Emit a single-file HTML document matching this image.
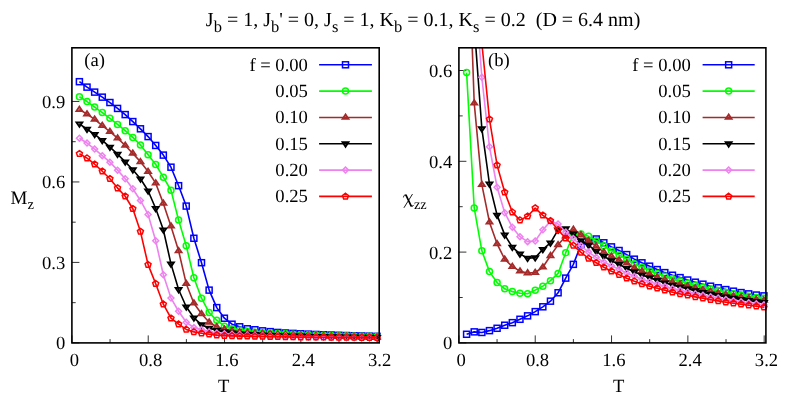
<!DOCTYPE html>
<html><head><meta charset="utf-8"><title>chart</title>
<style>html,body{margin:0;padding:0;background:#fff;}body{width:798px;height:399px;overflow:hidden;position:relative;font-family:"Liberation Serif",serif;}</style></head>
<body>
<svg width="798" height="399" viewBox="0 0 798 399" style="position:absolute;left:0;top:0;font-family:'Liberation Serif',serif;font-size:18.6px;fill:#000;text-rendering:geometricPrecision;will-change:transform">
<rect width="798" height="399" fill="#fff"/>
<text x="423.1" y="26.2" text-anchor="middle" style="font-size:20px">J<tspan dy="6.1" style="font-size:16.5px">b</tspan><tspan dy="-6.1"> = 1, J</tspan><tspan dy="6.1" style="font-size:16.5px">b</tspan><tspan dy="-6.1">' = 0, J</tspan><tspan dy="6.1" style="font-size:16.5px">s</tspan><tspan dy="-6.1"> = 1, K</tspan><tspan dy="6.1" style="font-size:16.5px">b</tspan><tspan dy="-6.1"> = 0.1, K</tspan><tspan dy="6.1" style="font-size:16.5px">s</tspan><tspan dy="-6.1"> = 0.2 &#160;(D = 6.4 nm)</tspan></text>
<clipPath id="ca"><rect x="71.9" y="47.8" width="307.3" height="295.1"/></clipPath>
<path d="M71.9,342.9v-7.5M110.06,342.9v-3.8M148.22,342.9v-7.5M186.38,342.9v-3.8M224.54,342.9v-7.5M262.7,342.9v-3.8M300.86,342.9v-7.5M339.02,342.9v-3.8M377.18,342.9v-7.5M71.9,342.9h7.5M71.9,302.66h3.8M71.9,262.42h7.5M71.9,222.18h3.8M71.9,181.94h7.5M71.9,141.7h3.8M71.9,101.45h7.5" stroke="#000" stroke-width="0.8" fill="none"/>
<g clip-path="url(#ca)"><polyline points="79.4,81.68 87.03,87.13 94.66,92.12 102.29,97.16 109.92,102.53 117.56,108.43 125.19,114.6 132.82,121.58 140.45,128.82 148.08,136.6 155.71,145.45 163.34,155.11 170.97,167.18 178.6,185.69 186.23,206.08 193.87,238.27 201.5,262.69 209.13,290.13 216.76,307.6 224.39,318.22 232.02,324.2 239.65,326.8 247.28,328.79 254.91,329.75 262.54,330.83 270.18,331.63 277.81,332.44 285.44,332.97 293.07,333.39 300.7,333.77 308.33,334.12 315.96,334.44 323.59,334.74 331.22,335.02 338.85,335.28 346.49,335.52 354.12,335.74 361.75,335.95 369.38,336.14 377.01,336.33" fill="none" stroke="#0000ff" stroke-width="1.6" stroke-linejoin="round"/></g>
<rect x="76.4" y="78.68" width="6" height="6" fill="none" stroke="#0000ff" stroke-width="1.5"/>
<rect x="84.03" y="84.13" width="6" height="6" fill="none" stroke="#0000ff" stroke-width="1.5"/>
<rect x="91.66" y="89.12" width="6" height="6" fill="none" stroke="#0000ff" stroke-width="1.5"/>
<rect x="99.29" y="94.16" width="6" height="6" fill="none" stroke="#0000ff" stroke-width="1.5"/>
<rect x="106.92" y="99.53" width="6" height="6" fill="none" stroke="#0000ff" stroke-width="1.5"/>
<rect x="114.56" y="105.43" width="6" height="6" fill="none" stroke="#0000ff" stroke-width="1.5"/>
<rect x="122.19" y="111.6" width="6" height="6" fill="none" stroke="#0000ff" stroke-width="1.5"/>
<rect x="129.82" y="118.58" width="6" height="6" fill="none" stroke="#0000ff" stroke-width="1.5"/>
<rect x="137.45" y="125.82" width="6" height="6" fill="none" stroke="#0000ff" stroke-width="1.5"/>
<rect x="145.08" y="133.6" width="6" height="6" fill="none" stroke="#0000ff" stroke-width="1.5"/>
<rect x="152.71" y="142.45" width="6" height="6" fill="none" stroke="#0000ff" stroke-width="1.5"/>
<rect x="160.34" y="152.11" width="6" height="6" fill="none" stroke="#0000ff" stroke-width="1.5"/>
<rect x="167.97" y="164.18" width="6" height="6" fill="none" stroke="#0000ff" stroke-width="1.5"/>
<rect x="175.6" y="182.69" width="6" height="6" fill="none" stroke="#0000ff" stroke-width="1.5"/>
<rect x="183.23" y="203.08" width="6" height="6" fill="none" stroke="#0000ff" stroke-width="1.5"/>
<rect x="190.87" y="235.27" width="6" height="6" fill="none" stroke="#0000ff" stroke-width="1.5"/>
<rect x="198.5" y="259.69" width="6" height="6" fill="none" stroke="#0000ff" stroke-width="1.5"/>
<rect x="206.13" y="287.13" width="6" height="6" fill="none" stroke="#0000ff" stroke-width="1.5"/>
<rect x="213.76" y="304.6" width="6" height="6" fill="none" stroke="#0000ff" stroke-width="1.5"/>
<rect x="221.39" y="315.22" width="6" height="6" fill="none" stroke="#0000ff" stroke-width="1.5"/>
<rect x="229.02" y="321.2" width="6" height="6" fill="none" stroke="#0000ff" stroke-width="1.5"/>
<rect x="236.65" y="323.8" width="6" height="6" fill="none" stroke="#0000ff" stroke-width="1.5"/>
<rect x="244.28" y="325.79" width="6" height="6" fill="none" stroke="#0000ff" stroke-width="1.5"/>
<rect x="251.91" y="326.75" width="6" height="6" fill="none" stroke="#0000ff" stroke-width="1.5"/>
<rect x="259.54" y="327.83" width="6" height="6" fill="none" stroke="#0000ff" stroke-width="1.5"/>
<rect x="267.18" y="328.63" width="6" height="6" fill="none" stroke="#0000ff" stroke-width="1.5"/>
<rect x="274.81" y="329.44" width="6" height="6" fill="none" stroke="#0000ff" stroke-width="1.5"/>
<rect x="282.44" y="329.97" width="6" height="6" fill="none" stroke="#0000ff" stroke-width="1.5"/>
<rect x="290.07" y="330.39" width="6" height="6" fill="none" stroke="#0000ff" stroke-width="1.5"/>
<rect x="297.7" y="330.77" width="6" height="6" fill="none" stroke="#0000ff" stroke-width="1.5"/>
<rect x="305.33" y="331.12" width="6" height="6" fill="none" stroke="#0000ff" stroke-width="1.5"/>
<rect x="312.96" y="331.44" width="6" height="6" fill="none" stroke="#0000ff" stroke-width="1.5"/>
<rect x="320.59" y="331.74" width="6" height="6" fill="none" stroke="#0000ff" stroke-width="1.5"/>
<rect x="328.22" y="332.02" width="6" height="6" fill="none" stroke="#0000ff" stroke-width="1.5"/>
<rect x="335.85" y="332.28" width="6" height="6" fill="none" stroke="#0000ff" stroke-width="1.5"/>
<rect x="343.49" y="332.52" width="6" height="6" fill="none" stroke="#0000ff" stroke-width="1.5"/>
<rect x="351.12" y="332.74" width="6" height="6" fill="none" stroke="#0000ff" stroke-width="1.5"/>
<rect x="358.75" y="332.95" width="6" height="6" fill="none" stroke="#0000ff" stroke-width="1.5"/>
<rect x="366.38" y="333.14" width="6" height="6" fill="none" stroke="#0000ff" stroke-width="1.5"/>
<rect x="374.01" y="333.33" width="6" height="6" fill="none" stroke="#0000ff" stroke-width="1.5"/>
<g clip-path="url(#ca)"><polyline points="79.4,96.73 87.03,101.54 94.66,107.09 102.29,112.53 109.92,118.36 117.56,124.45 125.19,130.64 132.82,137.4 140.45,145.05 148.08,154.76 155.71,164.5 163.34,177.16 170.97,190.25 178.6,220.11 186.23,245.79 193.87,277.71 201.5,298.18 209.13,312.59 216.76,320.2 224.39,326.19 232.02,328.79 239.65,330.29 247.28,331.36 254.91,332.17 262.54,332.65 270.18,333.08 277.81,333.47 285.44,333.82 293.07,334.15 300.7,334.45 308.33,334.73 315.96,334.98 323.59,335.21 331.22,335.43 338.85,335.63 346.49,335.82 354.12,336 361.75,336.16 369.38,336.32 377.01,336.46" fill="none" stroke="#00ff00" stroke-width="1.6" stroke-linejoin="round"/></g>
<circle cx="79.4" cy="96.73" r="3" fill="none" stroke="#00ff00" stroke-width="1.5"/>
<circle cx="87.03" cy="101.54" r="3" fill="none" stroke="#00ff00" stroke-width="1.5"/>
<circle cx="94.66" cy="107.09" r="3" fill="none" stroke="#00ff00" stroke-width="1.5"/>
<circle cx="102.29" cy="112.53" r="3" fill="none" stroke="#00ff00" stroke-width="1.5"/>
<circle cx="109.92" cy="118.36" r="3" fill="none" stroke="#00ff00" stroke-width="1.5"/>
<circle cx="117.56" cy="124.45" r="3" fill="none" stroke="#00ff00" stroke-width="1.5"/>
<circle cx="125.19" cy="130.64" r="3" fill="none" stroke="#00ff00" stroke-width="1.5"/>
<circle cx="132.82" cy="137.4" r="3" fill="none" stroke="#00ff00" stroke-width="1.5"/>
<circle cx="140.45" cy="145.05" r="3" fill="none" stroke="#00ff00" stroke-width="1.5"/>
<circle cx="148.08" cy="154.76" r="3" fill="none" stroke="#00ff00" stroke-width="1.5"/>
<circle cx="155.71" cy="164.5" r="3" fill="none" stroke="#00ff00" stroke-width="1.5"/>
<circle cx="163.34" cy="177.16" r="3" fill="none" stroke="#00ff00" stroke-width="1.5"/>
<circle cx="170.97" cy="190.25" r="3" fill="none" stroke="#00ff00" stroke-width="1.5"/>
<circle cx="178.6" cy="220.11" r="3" fill="none" stroke="#00ff00" stroke-width="1.5"/>
<circle cx="186.23" cy="245.79" r="3" fill="none" stroke="#00ff00" stroke-width="1.5"/>
<circle cx="193.87" cy="277.71" r="3" fill="none" stroke="#00ff00" stroke-width="1.5"/>
<circle cx="201.5" cy="298.18" r="3" fill="none" stroke="#00ff00" stroke-width="1.5"/>
<circle cx="209.13" cy="312.59" r="3" fill="none" stroke="#00ff00" stroke-width="1.5"/>
<circle cx="216.76" cy="320.2" r="3" fill="none" stroke="#00ff00" stroke-width="1.5"/>
<circle cx="224.39" cy="326.19" r="3" fill="none" stroke="#00ff00" stroke-width="1.5"/>
<circle cx="232.02" cy="328.79" r="3" fill="none" stroke="#00ff00" stroke-width="1.5"/>
<circle cx="239.65" cy="330.29" r="3" fill="none" stroke="#00ff00" stroke-width="1.5"/>
<circle cx="247.28" cy="331.36" r="3" fill="none" stroke="#00ff00" stroke-width="1.5"/>
<circle cx="254.91" cy="332.17" r="3" fill="none" stroke="#00ff00" stroke-width="1.5"/>
<circle cx="262.54" cy="332.65" r="3" fill="none" stroke="#00ff00" stroke-width="1.5"/>
<circle cx="270.18" cy="333.08" r="3" fill="none" stroke="#00ff00" stroke-width="1.5"/>
<circle cx="277.81" cy="333.47" r="3" fill="none" stroke="#00ff00" stroke-width="1.5"/>
<circle cx="285.44" cy="333.82" r="3" fill="none" stroke="#00ff00" stroke-width="1.5"/>
<circle cx="293.07" cy="334.15" r="3" fill="none" stroke="#00ff00" stroke-width="1.5"/>
<circle cx="300.7" cy="334.45" r="3" fill="none" stroke="#00ff00" stroke-width="1.5"/>
<circle cx="308.33" cy="334.73" r="3" fill="none" stroke="#00ff00" stroke-width="1.5"/>
<circle cx="315.96" cy="334.98" r="3" fill="none" stroke="#00ff00" stroke-width="1.5"/>
<circle cx="323.59" cy="335.21" r="3" fill="none" stroke="#00ff00" stroke-width="1.5"/>
<circle cx="331.22" cy="335.43" r="3" fill="none" stroke="#00ff00" stroke-width="1.5"/>
<circle cx="338.85" cy="335.63" r="3" fill="none" stroke="#00ff00" stroke-width="1.5"/>
<circle cx="346.49" cy="335.82" r="3" fill="none" stroke="#00ff00" stroke-width="1.5"/>
<circle cx="354.12" cy="336" r="3" fill="none" stroke="#00ff00" stroke-width="1.5"/>
<circle cx="361.75" cy="336.16" r="3" fill="none" stroke="#00ff00" stroke-width="1.5"/>
<circle cx="369.38" cy="336.32" r="3" fill="none" stroke="#00ff00" stroke-width="1.5"/>
<circle cx="377.01" cy="336.46" r="3" fill="none" stroke="#00ff00" stroke-width="1.5"/>
<g clip-path="url(#ca)"><polyline points="79.4,109.53 87.03,114.14 94.66,119.35 102.29,125.65 109.92,131.64 117.56,138.21 125.19,145.45 132.82,153.34 140.45,161.82 148.08,171.55 155.71,183.17 163.34,203.4 170.97,226.2 178.6,250.78 186.23,283.69 193.87,303.2 201.5,313.79 209.13,322.24 216.76,326.8 224.39,329.22 232.02,330.83 239.65,331.9 247.28,332.71 254.91,333.18 262.54,333.6 270.18,333.98 277.81,334.33 285.44,334.65 293.07,334.94 300.7,335.21 308.33,335.45 315.96,335.68 323.59,335.89 331.22,336.08 338.85,336.26 346.49,336.43 354.12,336.59 361.75,336.73 369.38,336.87 377.01,337" fill="none" stroke="#a52a2a" stroke-width="1.6" stroke-linejoin="round"/></g>
<polygon points="79.4,106.49 76.36,111.05 82.44,111.05" fill="#a52a2a" fill-opacity="0.45" stroke="#a52a2a" stroke-width="1.75"/>
<polygon points="87.03,111.1 83.99,115.66 90.07,115.66" fill="#a52a2a" fill-opacity="0.45" stroke="#a52a2a" stroke-width="1.75"/>
<polygon points="94.66,116.31 91.62,120.87 97.7,120.87" fill="#a52a2a" fill-opacity="0.45" stroke="#a52a2a" stroke-width="1.75"/>
<polygon points="102.29,122.61 99.25,127.17 105.33,127.17" fill="#a52a2a" fill-opacity="0.45" stroke="#a52a2a" stroke-width="1.75"/>
<polygon points="109.92,128.6 106.88,133.16 112.96,133.16" fill="#a52a2a" fill-opacity="0.45" stroke="#a52a2a" stroke-width="1.75"/>
<polygon points="117.56,135.17 114.52,139.73 120.59,139.73" fill="#a52a2a" fill-opacity="0.45" stroke="#a52a2a" stroke-width="1.75"/>
<polygon points="125.19,142.41 122.15,146.97 128.23,146.97" fill="#a52a2a" fill-opacity="0.45" stroke="#a52a2a" stroke-width="1.75"/>
<polygon points="132.82,150.3 129.78,154.86 135.86,154.86" fill="#a52a2a" fill-opacity="0.45" stroke="#a52a2a" stroke-width="1.75"/>
<polygon points="140.45,158.78 137.41,163.34 143.49,163.34" fill="#a52a2a" fill-opacity="0.45" stroke="#a52a2a" stroke-width="1.75"/>
<polygon points="148.08,168.51 145.04,173.07 151.12,173.07" fill="#a52a2a" fill-opacity="0.45" stroke="#a52a2a" stroke-width="1.75"/>
<polygon points="155.71,180.13 152.67,184.69 158.75,184.69" fill="#a52a2a" fill-opacity="0.45" stroke="#a52a2a" stroke-width="1.75"/>
<polygon points="163.34,200.36 160.3,204.92 166.38,204.92" fill="#a52a2a" fill-opacity="0.45" stroke="#a52a2a" stroke-width="1.75"/>
<polygon points="170.97,223.16 167.93,227.72 174.01,227.72" fill="#a52a2a" fill-opacity="0.45" stroke="#a52a2a" stroke-width="1.75"/>
<polygon points="178.6,247.74 175.56,252.3 181.64,252.3" fill="#a52a2a" fill-opacity="0.45" stroke="#a52a2a" stroke-width="1.75"/>
<polygon points="186.23,280.65 183.19,285.21 189.27,285.21" fill="#a52a2a" fill-opacity="0.45" stroke="#a52a2a" stroke-width="1.75"/>
<polygon points="193.87,300.16 190.83,304.72 196.9,304.72" fill="#a52a2a" fill-opacity="0.45" stroke="#a52a2a" stroke-width="1.75"/>
<polygon points="201.5,310.75 198.46,315.31 204.54,315.31" fill="#a52a2a" fill-opacity="0.45" stroke="#a52a2a" stroke-width="1.75"/>
<polygon points="209.13,319.2 206.09,323.76 212.17,323.76" fill="#a52a2a" fill-opacity="0.45" stroke="#a52a2a" stroke-width="1.75"/>
<polygon points="216.76,323.76 213.72,328.32 219.8,328.32" fill="#a52a2a" fill-opacity="0.45" stroke="#a52a2a" stroke-width="1.75"/>
<polygon points="224.39,326.18 221.35,330.74 227.43,330.74" fill="#a52a2a" fill-opacity="0.45" stroke="#a52a2a" stroke-width="1.75"/>
<polygon points="232.02,327.79 228.98,332.35 235.06,332.35" fill="#a52a2a" fill-opacity="0.45" stroke="#a52a2a" stroke-width="1.75"/>
<polygon points="239.65,328.86 236.61,333.42 242.69,333.42" fill="#a52a2a" fill-opacity="0.45" stroke="#a52a2a" stroke-width="1.75"/>
<polygon points="247.28,329.67 244.24,334.23 250.32,334.23" fill="#a52a2a" fill-opacity="0.45" stroke="#a52a2a" stroke-width="1.75"/>
<polygon points="254.91,330.14 251.87,334.7 257.95,334.7" fill="#a52a2a" fill-opacity="0.45" stroke="#a52a2a" stroke-width="1.75"/>
<polygon points="262.54,330.56 259.5,335.12 265.58,335.12" fill="#a52a2a" fill-opacity="0.45" stroke="#a52a2a" stroke-width="1.75"/>
<polygon points="270.18,330.94 267.14,335.5 273.21,335.5" fill="#a52a2a" fill-opacity="0.45" stroke="#a52a2a" stroke-width="1.75"/>
<polygon points="277.81,331.29 274.77,335.85 280.85,335.85" fill="#a52a2a" fill-opacity="0.45" stroke="#a52a2a" stroke-width="1.75"/>
<polygon points="285.44,331.61 282.4,336.17 288.48,336.17" fill="#a52a2a" fill-opacity="0.45" stroke="#a52a2a" stroke-width="1.75"/>
<polygon points="293.07,331.9 290.03,336.46 296.11,336.46" fill="#a52a2a" fill-opacity="0.45" stroke="#a52a2a" stroke-width="1.75"/>
<polygon points="300.7,332.17 297.66,336.73 303.74,336.73" fill="#a52a2a" fill-opacity="0.45" stroke="#a52a2a" stroke-width="1.75"/>
<polygon points="308.33,332.41 305.29,336.97 311.37,336.97" fill="#a52a2a" fill-opacity="0.45" stroke="#a52a2a" stroke-width="1.75"/>
<polygon points="315.96,332.64 312.92,337.2 319,337.2" fill="#a52a2a" fill-opacity="0.45" stroke="#a52a2a" stroke-width="1.75"/>
<polygon points="323.59,332.85 320.55,337.41 326.63,337.41" fill="#a52a2a" fill-opacity="0.45" stroke="#a52a2a" stroke-width="1.75"/>
<polygon points="331.22,333.04 328.18,337.6 334.26,337.6" fill="#a52a2a" fill-opacity="0.45" stroke="#a52a2a" stroke-width="1.75"/>
<polygon points="338.85,333.22 335.81,337.78 341.89,337.78" fill="#a52a2a" fill-opacity="0.45" stroke="#a52a2a" stroke-width="1.75"/>
<polygon points="346.49,333.39 343.45,337.95 349.52,337.95" fill="#a52a2a" fill-opacity="0.45" stroke="#a52a2a" stroke-width="1.75"/>
<polygon points="354.12,333.55 351.08,338.11 357.16,338.11" fill="#a52a2a" fill-opacity="0.45" stroke="#a52a2a" stroke-width="1.75"/>
<polygon points="361.75,333.69 358.71,338.25 364.79,338.25" fill="#a52a2a" fill-opacity="0.45" stroke="#a52a2a" stroke-width="1.75"/>
<polygon points="369.38,333.83 366.34,338.39 372.42,338.39" fill="#a52a2a" fill-opacity="0.45" stroke="#a52a2a" stroke-width="1.75"/>
<polygon points="377.01,333.96 373.97,338.52 380.05,338.52" fill="#a52a2a" fill-opacity="0.45" stroke="#a52a2a" stroke-width="1.75"/>
<g clip-path="url(#ca)"><polyline points="79.4,123.83 87.03,129.25 94.66,134.32 102.29,140.35 109.92,147.06 117.56,154.14 125.19,161.82 132.82,169.76 140.45,178.77 148.08,190.79 155.71,208.5 163.34,229.77 170.97,263.87 178.6,289.51 186.23,306.79 193.87,317.79 201.5,324.66 209.13,328.2 216.76,330.29 224.39,331.9 232.02,332.97 239.65,333.78 247.28,334.16 254.91,334.5 262.54,334.81 270.18,335.08 277.81,335.34 285.44,335.57 293.07,335.78 300.7,335.97 308.33,336.15 315.96,336.31 323.59,336.46 331.22,336.6 338.85,336.73 346.49,336.85 354.12,336.97 361.75,337.07 369.38,337.17 377.01,337.27" fill="none" stroke="#000000" stroke-width="1.6" stroke-linejoin="round"/></g>
<polygon points="79.4,126.87 76.36,122.31 82.44,122.31" fill="#000000" fill-opacity="0.45" stroke="#000000" stroke-width="1.75"/>
<polygon points="87.03,132.29 83.99,127.73 90.07,127.73" fill="#000000" fill-opacity="0.45" stroke="#000000" stroke-width="1.75"/>
<polygon points="94.66,137.36 91.62,132.8 97.7,132.8" fill="#000000" fill-opacity="0.45" stroke="#000000" stroke-width="1.75"/>
<polygon points="102.29,143.39 99.25,138.83 105.33,138.83" fill="#000000" fill-opacity="0.45" stroke="#000000" stroke-width="1.75"/>
<polygon points="109.92,150.1 106.88,145.54 112.96,145.54" fill="#000000" fill-opacity="0.45" stroke="#000000" stroke-width="1.75"/>
<polygon points="117.56,157.18 114.52,152.62 120.59,152.62" fill="#000000" fill-opacity="0.45" stroke="#000000" stroke-width="1.75"/>
<polygon points="125.19,164.86 122.15,160.3 128.23,160.3" fill="#000000" fill-opacity="0.45" stroke="#000000" stroke-width="1.75"/>
<polygon points="132.82,172.8 129.78,168.24 135.86,168.24" fill="#000000" fill-opacity="0.45" stroke="#000000" stroke-width="1.75"/>
<polygon points="140.45,181.81 137.41,177.25 143.49,177.25" fill="#000000" fill-opacity="0.45" stroke="#000000" stroke-width="1.75"/>
<polygon points="148.08,193.83 145.04,189.27 151.12,189.27" fill="#000000" fill-opacity="0.45" stroke="#000000" stroke-width="1.75"/>
<polygon points="155.71,211.53 152.67,206.97 158.75,206.97" fill="#000000" fill-opacity="0.45" stroke="#000000" stroke-width="1.75"/>
<polygon points="163.34,232.81 160.3,228.25 166.38,228.25" fill="#000000" fill-opacity="0.45" stroke="#000000" stroke-width="1.75"/>
<polygon points="170.97,266.91 167.93,262.35 174.01,262.35" fill="#000000" fill-opacity="0.45" stroke="#000000" stroke-width="1.75"/>
<polygon points="178.6,292.55 175.56,287.99 181.64,287.99" fill="#000000" fill-opacity="0.45" stroke="#000000" stroke-width="1.75"/>
<polygon points="186.23,309.83 183.19,305.27 189.27,305.27" fill="#000000" fill-opacity="0.45" stroke="#000000" stroke-width="1.75"/>
<polygon points="193.87,320.83 190.83,316.27 196.9,316.27" fill="#000000" fill-opacity="0.45" stroke="#000000" stroke-width="1.75"/>
<polygon points="201.5,327.7 198.46,323.14 204.54,323.14" fill="#000000" fill-opacity="0.45" stroke="#000000" stroke-width="1.75"/>
<polygon points="209.13,331.24 206.09,326.68 212.17,326.68" fill="#000000" fill-opacity="0.45" stroke="#000000" stroke-width="1.75"/>
<polygon points="216.76,333.33 213.72,328.77 219.8,328.77" fill="#000000" fill-opacity="0.45" stroke="#000000" stroke-width="1.75"/>
<polygon points="224.39,334.94 221.35,330.38 227.43,330.38" fill="#000000" fill-opacity="0.45" stroke="#000000" stroke-width="1.75"/>
<polygon points="232.02,336.01 228.98,331.45 235.06,331.45" fill="#000000" fill-opacity="0.45" stroke="#000000" stroke-width="1.75"/>
<polygon points="239.65,336.82 236.61,332.26 242.69,332.26" fill="#000000" fill-opacity="0.45" stroke="#000000" stroke-width="1.75"/>
<polygon points="247.28,337.2 244.24,332.64 250.32,332.64" fill="#000000" fill-opacity="0.45" stroke="#000000" stroke-width="1.75"/>
<polygon points="254.91,337.54 251.87,332.98 257.95,332.98" fill="#000000" fill-opacity="0.45" stroke="#000000" stroke-width="1.75"/>
<polygon points="262.54,337.85 259.5,333.29 265.58,333.29" fill="#000000" fill-opacity="0.45" stroke="#000000" stroke-width="1.75"/>
<polygon points="270.18,338.12 267.14,333.56 273.21,333.56" fill="#000000" fill-opacity="0.45" stroke="#000000" stroke-width="1.75"/>
<polygon points="277.81,338.38 274.77,333.82 280.85,333.82" fill="#000000" fill-opacity="0.45" stroke="#000000" stroke-width="1.75"/>
<polygon points="285.44,338.61 282.4,334.05 288.48,334.05" fill="#000000" fill-opacity="0.45" stroke="#000000" stroke-width="1.75"/>
<polygon points="293.07,338.82 290.03,334.26 296.11,334.26" fill="#000000" fill-opacity="0.45" stroke="#000000" stroke-width="1.75"/>
<polygon points="300.7,339.01 297.66,334.45 303.74,334.45" fill="#000000" fill-opacity="0.45" stroke="#000000" stroke-width="1.75"/>
<polygon points="308.33,339.19 305.29,334.63 311.37,334.63" fill="#000000" fill-opacity="0.45" stroke="#000000" stroke-width="1.75"/>
<polygon points="315.96,339.35 312.92,334.79 319,334.79" fill="#000000" fill-opacity="0.45" stroke="#000000" stroke-width="1.75"/>
<polygon points="323.59,339.5 320.55,334.94 326.63,334.94" fill="#000000" fill-opacity="0.45" stroke="#000000" stroke-width="1.75"/>
<polygon points="331.22,339.64 328.18,335.08 334.26,335.08" fill="#000000" fill-opacity="0.45" stroke="#000000" stroke-width="1.75"/>
<polygon points="338.85,339.77 335.81,335.21 341.89,335.21" fill="#000000" fill-opacity="0.45" stroke="#000000" stroke-width="1.75"/>
<polygon points="346.49,339.89 343.45,335.33 349.52,335.33" fill="#000000" fill-opacity="0.45" stroke="#000000" stroke-width="1.75"/>
<polygon points="354.12,340.01 351.08,335.45 357.16,335.45" fill="#000000" fill-opacity="0.45" stroke="#000000" stroke-width="1.75"/>
<polygon points="361.75,340.11 358.71,335.55 364.79,335.55" fill="#000000" fill-opacity="0.45" stroke="#000000" stroke-width="1.75"/>
<polygon points="369.38,340.21 366.34,335.65 372.42,335.65" fill="#000000" fill-opacity="0.45" stroke="#000000" stroke-width="1.75"/>
<polygon points="377.01,340.31 373.97,335.75 380.05,335.75" fill="#000000" fill-opacity="0.45" stroke="#000000" stroke-width="1.75"/>
<g clip-path="url(#ca)"><polyline points="79.4,138.21 87.03,143.04 94.66,149.05 102.29,155.65 109.92,162.14 117.56,170.13 125.19,178.72 132.82,188.75 140.45,200.45 148.08,214.48 155.71,240.77 163.34,274.76 170.97,298.1 178.6,311.24 186.23,322.24 193.87,327.61 201.5,329.59 209.13,331.63 216.76,332.97 224.39,333.78 232.02,334.19 239.65,334.55 247.28,334.88 254.91,335.17 262.54,335.43 270.18,335.67 277.81,335.88 285.44,336.08 293.07,336.26 300.7,336.43 308.33,336.58 315.96,336.72 323.59,336.85 331.22,336.97 338.85,337.08 346.49,337.18 354.12,337.28 361.75,337.37 369.38,337.46 377.01,337.53" fill="none" stroke="#ee82ee" stroke-width="1.6" stroke-linejoin="round"/></g>
<polygon points="79.4,135.27 76.46,138.21 79.4,141.15 82.34,138.21" fill="none" stroke="#ee82ee" stroke-width="1.5"/>
<polygon points="87.03,140.1 84.09,143.04 87.03,145.98 89.97,143.04" fill="none" stroke="#ee82ee" stroke-width="1.5"/>
<polygon points="94.66,146.11 91.72,149.05 94.66,151.99 97.6,149.05" fill="none" stroke="#ee82ee" stroke-width="1.5"/>
<polygon points="102.29,152.71 99.35,155.65 102.29,158.59 105.23,155.65" fill="none" stroke="#ee82ee" stroke-width="1.5"/>
<polygon points="109.92,159.2 106.98,162.14 109.92,165.08 112.86,162.14" fill="none" stroke="#ee82ee" stroke-width="1.5"/>
<polygon points="117.56,167.19 114.62,170.13 117.56,173.07 120.5,170.13" fill="none" stroke="#ee82ee" stroke-width="1.5"/>
<polygon points="125.19,175.78 122.25,178.72 125.19,181.66 128.13,178.72" fill="none" stroke="#ee82ee" stroke-width="1.5"/>
<polygon points="132.82,185.81 129.88,188.75 132.82,191.69 135.76,188.75" fill="none" stroke="#ee82ee" stroke-width="1.5"/>
<polygon points="140.45,197.51 137.51,200.45 140.45,203.39 143.39,200.45" fill="none" stroke="#ee82ee" stroke-width="1.5"/>
<polygon points="148.08,211.54 145.14,214.48 148.08,217.42 151.02,214.48" fill="none" stroke="#ee82ee" stroke-width="1.5"/>
<polygon points="155.71,237.83 152.77,240.77 155.71,243.71 158.65,240.77" fill="none" stroke="#ee82ee" stroke-width="1.5"/>
<polygon points="163.34,271.82 160.4,274.76 163.34,277.7 166.28,274.76" fill="none" stroke="#ee82ee" stroke-width="1.5"/>
<polygon points="170.97,295.16 168.03,298.1 170.97,301.04 173.91,298.1" fill="none" stroke="#ee82ee" stroke-width="1.5"/>
<polygon points="178.6,308.3 175.66,311.24 178.6,314.18 181.54,311.24" fill="none" stroke="#ee82ee" stroke-width="1.5"/>
<polygon points="186.23,319.3 183.29,322.24 186.23,325.18 189.17,322.24" fill="none" stroke="#ee82ee" stroke-width="1.5"/>
<polygon points="193.87,324.67 190.93,327.61 193.87,330.55 196.81,327.61" fill="none" stroke="#ee82ee" stroke-width="1.5"/>
<polygon points="201.5,326.65 198.56,329.59 201.5,332.53 204.44,329.59" fill="none" stroke="#ee82ee" stroke-width="1.5"/>
<polygon points="209.13,328.69 206.19,331.63 209.13,334.57 212.07,331.63" fill="none" stroke="#ee82ee" stroke-width="1.5"/>
<polygon points="216.76,330.03 213.82,332.97 216.76,335.91 219.7,332.97" fill="none" stroke="#ee82ee" stroke-width="1.5"/>
<polygon points="224.39,330.84 221.45,333.78 224.39,336.72 227.33,333.78" fill="none" stroke="#ee82ee" stroke-width="1.5"/>
<polygon points="232.02,331.25 229.08,334.19 232.02,337.13 234.96,334.19" fill="none" stroke="#ee82ee" stroke-width="1.5"/>
<polygon points="239.65,331.61 236.71,334.55 239.65,337.49 242.59,334.55" fill="none" stroke="#ee82ee" stroke-width="1.5"/>
<polygon points="247.28,331.94 244.34,334.88 247.28,337.82 250.22,334.88" fill="none" stroke="#ee82ee" stroke-width="1.5"/>
<polygon points="254.91,332.23 251.97,335.17 254.91,338.11 257.85,335.17" fill="none" stroke="#ee82ee" stroke-width="1.5"/>
<polygon points="262.54,332.49 259.6,335.43 262.54,338.37 265.48,335.43" fill="none" stroke="#ee82ee" stroke-width="1.5"/>
<polygon points="270.18,332.73 267.24,335.67 270.18,338.61 273.12,335.67" fill="none" stroke="#ee82ee" stroke-width="1.5"/>
<polygon points="277.81,332.94 274.87,335.88 277.81,338.82 280.75,335.88" fill="none" stroke="#ee82ee" stroke-width="1.5"/>
<polygon points="285.44,333.14 282.5,336.08 285.44,339.02 288.38,336.08" fill="none" stroke="#ee82ee" stroke-width="1.5"/>
<polygon points="293.07,333.32 290.13,336.26 293.07,339.2 296.01,336.26" fill="none" stroke="#ee82ee" stroke-width="1.5"/>
<polygon points="300.7,333.49 297.76,336.43 300.7,339.37 303.64,336.43" fill="none" stroke="#ee82ee" stroke-width="1.5"/>
<polygon points="308.33,333.64 305.39,336.58 308.33,339.52 311.27,336.58" fill="none" stroke="#ee82ee" stroke-width="1.5"/>
<polygon points="315.96,333.78 313.02,336.72 315.96,339.66 318.9,336.72" fill="none" stroke="#ee82ee" stroke-width="1.5"/>
<polygon points="323.59,333.91 320.65,336.85 323.59,339.79 326.53,336.85" fill="none" stroke="#ee82ee" stroke-width="1.5"/>
<polygon points="331.22,334.03 328.28,336.97 331.22,339.91 334.16,336.97" fill="none" stroke="#ee82ee" stroke-width="1.5"/>
<polygon points="338.85,334.14 335.91,337.08 338.85,340.02 341.79,337.08" fill="none" stroke="#ee82ee" stroke-width="1.5"/>
<polygon points="346.49,334.24 343.55,337.18 346.49,340.12 349.43,337.18" fill="none" stroke="#ee82ee" stroke-width="1.5"/>
<polygon points="354.12,334.34 351.18,337.28 354.12,340.22 357.06,337.28" fill="none" stroke="#ee82ee" stroke-width="1.5"/>
<polygon points="361.75,334.43 358.81,337.37 361.75,340.31 364.69,337.37" fill="none" stroke="#ee82ee" stroke-width="1.5"/>
<polygon points="369.38,334.52 366.44,337.46 369.38,340.4 372.32,337.46" fill="none" stroke="#ee82ee" stroke-width="1.5"/>
<polygon points="377.01,334.59 374.07,337.53 377.01,340.47 379.95,337.53" fill="none" stroke="#ee82ee" stroke-width="1.5"/>
<g clip-path="url(#ca)"><polyline points="79.4,153.77 87.03,158.14 94.66,164.23 102.29,171.21 109.92,178.77 117.56,188.11 125.19,196.26 132.82,208.76 140.45,231.57 148.08,264.67 155.71,283.69 163.34,304.19 170.97,318.22 178.6,324.2 186.23,329.41 193.87,331.9 201.5,333.3 209.13,334.32 216.76,335.12 224.39,335.71 232.02,335.92 239.65,336.11 247.28,336.28 254.91,336.44 262.54,336.57 270.18,336.7 277.81,336.81 285.44,336.91 293.07,337 300.7,337.09 308.33,337.17 315.96,337.24 323.59,337.31 331.22,337.37 338.85,337.43 346.49,337.49 354.12,337.54 361.75,337.58 369.38,337.63 377.01,337.67" fill="none" stroke="#ff0000" stroke-width="1.6" stroke-linejoin="round"/></g>
<polygon points="79.4,150.62 82.4,152.79 81.25,156.32 77.55,156.32 76.4,152.79" fill="none" stroke="#ff0000" stroke-width="1.5"/>
<polygon points="87.03,154.99 90.03,157.17 88.88,160.69 85.18,160.69 84.04,157.17" fill="none" stroke="#ff0000" stroke-width="1.5"/>
<polygon points="94.66,161.08 97.66,163.26 96.51,166.78 92.81,166.78 91.67,163.26" fill="none" stroke="#ff0000" stroke-width="1.5"/>
<polygon points="102.29,168.06 105.29,170.23 104.14,173.75 100.44,173.75 99.3,170.23" fill="none" stroke="#ff0000" stroke-width="1.5"/>
<polygon points="109.92,175.62 112.92,177.8 111.78,181.32 108.07,181.32 106.93,177.8" fill="none" stroke="#ff0000" stroke-width="1.5"/>
<polygon points="117.56,184.96 120.55,187.13 119.41,190.66 115.7,190.66 114.56,187.13" fill="none" stroke="#ff0000" stroke-width="1.5"/>
<polygon points="125.19,193.11 128.18,195.29 127.04,198.81 123.33,198.81 122.19,195.29" fill="none" stroke="#ff0000" stroke-width="1.5"/>
<polygon points="132.82,205.61 135.81,207.79 134.67,211.31 130.97,211.31 129.82,207.79" fill="none" stroke="#ff0000" stroke-width="1.5"/>
<polygon points="140.45,228.42 143.44,230.59 142.3,234.12 138.6,234.12 137.45,230.59" fill="none" stroke="#ff0000" stroke-width="1.5"/>
<polygon points="148.08,261.52 151.07,263.7 149.93,267.22 146.23,267.22 145.08,263.7" fill="none" stroke="#ff0000" stroke-width="1.5"/>
<polygon points="155.71,280.54 158.71,282.72 157.56,286.24 153.86,286.24 152.71,282.72" fill="none" stroke="#ff0000" stroke-width="1.5"/>
<polygon points="163.34,301.04 166.34,303.21 165.19,306.74 161.49,306.74 160.35,303.21" fill="none" stroke="#ff0000" stroke-width="1.5"/>
<polygon points="170.97,315.07 173.97,317.25 172.82,320.77 169.12,320.77 167.98,317.25" fill="none" stroke="#ff0000" stroke-width="1.5"/>
<polygon points="178.6,321.05 181.6,323.23 180.45,326.75 176.75,326.75 175.61,323.23" fill="none" stroke="#ff0000" stroke-width="1.5"/>
<polygon points="186.23,326.26 189.23,328.43 188.09,331.95 184.38,331.95 183.24,328.43" fill="none" stroke="#ff0000" stroke-width="1.5"/>
<polygon points="193.87,328.75 196.86,330.93 195.72,334.45 192.01,334.45 190.87,330.93" fill="none" stroke="#ff0000" stroke-width="1.5"/>
<polygon points="201.5,330.15 204.49,332.32 203.35,335.84 199.64,335.84 198.5,332.32" fill="none" stroke="#ff0000" stroke-width="1.5"/>
<polygon points="209.13,331.17 212.12,333.34 210.98,336.86 207.28,336.86 206.13,333.34" fill="none" stroke="#ff0000" stroke-width="1.5"/>
<polygon points="216.76,331.97 219.75,334.15 218.61,337.67 214.91,337.67 213.76,334.15" fill="none" stroke="#ff0000" stroke-width="1.5"/>
<polygon points="224.39,332.56 227.38,334.74 226.24,338.26 222.54,338.26 221.39,334.74" fill="none" stroke="#ff0000" stroke-width="1.5"/>
<polygon points="232.02,332.77 235.02,334.95 233.87,338.47 230.17,338.47 229.02,334.95" fill="none" stroke="#ff0000" stroke-width="1.5"/>
<polygon points="239.65,332.96 242.65,335.14 241.5,338.66 237.8,338.66 236.66,335.14" fill="none" stroke="#ff0000" stroke-width="1.5"/>
<polygon points="247.28,333.13 250.28,335.31 249.13,338.83 245.43,338.83 244.29,335.31" fill="none" stroke="#ff0000" stroke-width="1.5"/>
<polygon points="254.91,333.29 257.91,335.46 256.76,338.98 253.06,338.98 251.92,335.46" fill="none" stroke="#ff0000" stroke-width="1.5"/>
<polygon points="262.54,333.42 265.54,335.6 264.4,339.12 260.69,339.12 259.55,335.6" fill="none" stroke="#ff0000" stroke-width="1.5"/>
<polygon points="270.18,333.55 273.17,335.72 272.03,339.24 268.32,339.24 267.18,335.72" fill="none" stroke="#ff0000" stroke-width="1.5"/>
<polygon points="277.81,333.66 280.8,335.83 279.66,339.36 275.95,339.36 274.81,335.83" fill="none" stroke="#ff0000" stroke-width="1.5"/>
<polygon points="285.44,333.76 288.43,335.94 287.29,339.46 283.59,339.46 282.44,335.94" fill="none" stroke="#ff0000" stroke-width="1.5"/>
<polygon points="293.07,333.85 296.06,336.03 294.92,339.55 291.22,339.55 290.07,336.03" fill="none" stroke="#ff0000" stroke-width="1.5"/>
<polygon points="300.7,333.94 303.69,336.12 302.55,339.64 298.85,339.64 297.7,336.12" fill="none" stroke="#ff0000" stroke-width="1.5"/>
<polygon points="308.33,334.02 311.33,336.2 310.18,339.72 306.48,339.72 305.33,336.2" fill="none" stroke="#ff0000" stroke-width="1.5"/>
<polygon points="315.96,334.09 318.96,336.27 317.81,339.79 314.11,339.79 312.97,336.27" fill="none" stroke="#ff0000" stroke-width="1.5"/>
<polygon points="323.59,334.16 326.59,336.34 325.44,339.86 321.74,339.86 320.6,336.34" fill="none" stroke="#ff0000" stroke-width="1.5"/>
<polygon points="331.22,334.22 334.22,336.4 333.07,339.92 329.37,339.92 328.23,336.4" fill="none" stroke="#ff0000" stroke-width="1.5"/>
<polygon points="338.85,334.28 341.85,336.46 340.71,339.98 337,339.98 335.86,336.46" fill="none" stroke="#ff0000" stroke-width="1.5"/>
<polygon points="346.49,334.34 349.48,336.51 348.34,340.03 344.63,340.03 343.49,336.51" fill="none" stroke="#ff0000" stroke-width="1.5"/>
<polygon points="354.12,334.39 357.11,336.56 355.97,340.08 352.26,340.08 351.12,336.56" fill="none" stroke="#ff0000" stroke-width="1.5"/>
<polygon points="361.75,334.43 364.74,336.61 363.6,340.13 359.9,340.13 358.75,336.61" fill="none" stroke="#ff0000" stroke-width="1.5"/>
<polygon points="369.38,334.48 372.37,336.65 371.23,340.18 367.53,340.18 366.38,336.65" fill="none" stroke="#ff0000" stroke-width="1.5"/>
<polygon points="377.01,334.52 380,336.7 378.86,340.22 375.16,340.22 374.01,336.7" fill="none" stroke="#ff0000" stroke-width="1.5"/>
<rect x="71.9" y="47.8" width="307.3" height="295.1" fill="none" stroke="#000" stroke-width="1.6"/>
<text x="74.3" y="366.1" text-anchor="middle">0</text>
<text x="150.62" y="366.1" text-anchor="middle">0.8</text>
<text x="226.94" y="366.1" text-anchor="middle">1.6</text>
<text x="303.26" y="366.1" text-anchor="middle">2.4</text>
<text x="379.58" y="366.1" text-anchor="middle">3.2</text>
<text x="65.3" y="349.4" text-anchor="end">0</text>
<text x="65.3" y="268.92" text-anchor="end">0.3</text>
<text x="65.3" y="188.44" text-anchor="end">0.6</text>
<text x="65.3" y="107.95" text-anchor="end">0.9</text>
<text x="223.6" y="391.8" text-anchor="middle">T</text>
<text x="307.9" y="70.8" text-anchor="end">f = 0.00</text>
<path d="M319.1,64.8H371.9" stroke="#0000ff" stroke-width="1.6"/>
<rect x="342.5" y="61.8" width="6" height="6" fill="none" stroke="#0000ff" stroke-width="1.5"/>
<text x="307.9" y="97.12" text-anchor="end">0.05</text>
<path d="M319.1,91.12H371.9" stroke="#00ff00" stroke-width="1.6"/>
<circle cx="345.5" cy="91.12" r="3" fill="none" stroke="#00ff00" stroke-width="1.5"/>
<text x="307.9" y="123.44" text-anchor="end">0.10</text>
<path d="M319.1,117.44H371.9" stroke="#a52a2a" stroke-width="1.6"/>
<polygon points="345.5,114.4 342.46,118.96 348.54,118.96" fill="#a52a2a" fill-opacity="0.45" stroke="#a52a2a" stroke-width="1.75"/>
<text x="307.9" y="149.76" text-anchor="end">0.15</text>
<path d="M319.1,143.76H371.9" stroke="#000000" stroke-width="1.6"/>
<polygon points="345.5,146.8 342.46,142.24 348.54,142.24" fill="#000000" fill-opacity="0.45" stroke="#000000" stroke-width="1.75"/>
<text x="307.9" y="176.08" text-anchor="end">0.20</text>
<path d="M319.1,170.08H371.9" stroke="#ee82ee" stroke-width="1.6"/>
<polygon points="345.5,167.14 342.56,170.08 345.5,173.02 348.44,170.08" fill="none" stroke="#ee82ee" stroke-width="1.5"/>
<text x="307.9" y="202.4" text-anchor="end">0.25</text>
<path d="M319.1,196.4H371.9" stroke="#ff0000" stroke-width="1.6"/>
<polygon points="345.5,193.25 348.5,195.43 347.35,198.95 343.65,198.95 342.5,195.43" fill="none" stroke="#ff0000" stroke-width="1.5"/>
<clipPath id="cb"><rect x="458.9" y="47.8" width="307" height="295.1"/></clipPath>
<path d="M458.9,342.9v-7.5M497.06,342.9v-3.8M535.22,342.9v-7.5M573.38,342.9v-3.8M611.54,342.9v-7.5M649.7,342.9v-3.8M687.86,342.9v-7.5M726.02,342.9v-3.8M764.18,342.9v-7.5M458.9,342.9h7.5M458.9,297.5h3.8M458.9,252.1h7.5M458.9,206.7h3.8M458.9,161.3h7.5M458.9,115.9h3.8M458.9,70.5h7.5" stroke="#000" stroke-width="0.8" fill="none"/>
<g clip-path="url(#cb)"><polyline points="466.6,334.27 474.22,331.87 481.85,332.46 489.47,330.64 497.1,328.28 504.72,325.24 512.34,322.65 519.97,319.29 527.59,315.84 535.22,311.62 542.84,306.81 550.46,301.18 558.09,292.78 565.71,278.11 573.34,264.36 580.96,244.7 588.58,241.2 596.21,238.98 603.83,242.79 611.46,246.88 619.08,250.51 626.7,254.6 634.33,259.18 641.95,262.81 649.58,266.17 657.2,269.58 664.82,272.62 672.45,275.25 680.07,277.61 687.7,280.02 695.32,282.2 702.94,284.2 710.57,286.2 718.19,287.78 725.82,289.6 733.44,291.19 741.06,292.6 748.69,293.87 756.31,295.05 763.94,295.87" fill="none" stroke="#0000ff" stroke-width="1.6" stroke-linejoin="round"/></g>
<rect x="463.6" y="331.27" width="6" height="6" fill="none" stroke="#0000ff" stroke-width="1.5"/>
<rect x="471.22" y="328.87" width="6" height="6" fill="none" stroke="#0000ff" stroke-width="1.5"/>
<rect x="478.85" y="329.46" width="6" height="6" fill="none" stroke="#0000ff" stroke-width="1.5"/>
<rect x="486.47" y="327.64" width="6" height="6" fill="none" stroke="#0000ff" stroke-width="1.5"/>
<rect x="494.1" y="325.28" width="6" height="6" fill="none" stroke="#0000ff" stroke-width="1.5"/>
<rect x="501.72" y="322.24" width="6" height="6" fill="none" stroke="#0000ff" stroke-width="1.5"/>
<rect x="509.34" y="319.65" width="6" height="6" fill="none" stroke="#0000ff" stroke-width="1.5"/>
<rect x="516.97" y="316.29" width="6" height="6" fill="none" stroke="#0000ff" stroke-width="1.5"/>
<rect x="524.59" y="312.84" width="6" height="6" fill="none" stroke="#0000ff" stroke-width="1.5"/>
<rect x="532.22" y="308.62" width="6" height="6" fill="none" stroke="#0000ff" stroke-width="1.5"/>
<rect x="539.84" y="303.81" width="6" height="6" fill="none" stroke="#0000ff" stroke-width="1.5"/>
<rect x="547.46" y="298.18" width="6" height="6" fill="none" stroke="#0000ff" stroke-width="1.5"/>
<rect x="555.09" y="289.78" width="6" height="6" fill="none" stroke="#0000ff" stroke-width="1.5"/>
<rect x="562.71" y="275.11" width="6" height="6" fill="none" stroke="#0000ff" stroke-width="1.5"/>
<rect x="570.34" y="261.36" width="6" height="6" fill="none" stroke="#0000ff" stroke-width="1.5"/>
<rect x="577.96" y="241.7" width="6" height="6" fill="none" stroke="#0000ff" stroke-width="1.5"/>
<rect x="585.58" y="238.2" width="6" height="6" fill="none" stroke="#0000ff" stroke-width="1.5"/>
<rect x="593.21" y="235.98" width="6" height="6" fill="none" stroke="#0000ff" stroke-width="1.5"/>
<rect x="600.83" y="239.79" width="6" height="6" fill="none" stroke="#0000ff" stroke-width="1.5"/>
<rect x="608.46" y="243.88" width="6" height="6" fill="none" stroke="#0000ff" stroke-width="1.5"/>
<rect x="616.08" y="247.51" width="6" height="6" fill="none" stroke="#0000ff" stroke-width="1.5"/>
<rect x="623.7" y="251.6" width="6" height="6" fill="none" stroke="#0000ff" stroke-width="1.5"/>
<rect x="631.33" y="256.18" width="6" height="6" fill="none" stroke="#0000ff" stroke-width="1.5"/>
<rect x="638.95" y="259.81" width="6" height="6" fill="none" stroke="#0000ff" stroke-width="1.5"/>
<rect x="646.58" y="263.17" width="6" height="6" fill="none" stroke="#0000ff" stroke-width="1.5"/>
<rect x="654.2" y="266.58" width="6" height="6" fill="none" stroke="#0000ff" stroke-width="1.5"/>
<rect x="661.82" y="269.62" width="6" height="6" fill="none" stroke="#0000ff" stroke-width="1.5"/>
<rect x="669.45" y="272.25" width="6" height="6" fill="none" stroke="#0000ff" stroke-width="1.5"/>
<rect x="677.07" y="274.61" width="6" height="6" fill="none" stroke="#0000ff" stroke-width="1.5"/>
<rect x="684.7" y="277.02" width="6" height="6" fill="none" stroke="#0000ff" stroke-width="1.5"/>
<rect x="692.32" y="279.2" width="6" height="6" fill="none" stroke="#0000ff" stroke-width="1.5"/>
<rect x="699.94" y="281.2" width="6" height="6" fill="none" stroke="#0000ff" stroke-width="1.5"/>
<rect x="707.57" y="283.2" width="6" height="6" fill="none" stroke="#0000ff" stroke-width="1.5"/>
<rect x="715.19" y="284.78" width="6" height="6" fill="none" stroke="#0000ff" stroke-width="1.5"/>
<rect x="722.82" y="286.6" width="6" height="6" fill="none" stroke="#0000ff" stroke-width="1.5"/>
<rect x="730.44" y="288.19" width="6" height="6" fill="none" stroke="#0000ff" stroke-width="1.5"/>
<rect x="738.06" y="289.6" width="6" height="6" fill="none" stroke="#0000ff" stroke-width="1.5"/>
<rect x="745.69" y="290.87" width="6" height="6" fill="none" stroke="#0000ff" stroke-width="1.5"/>
<rect x="753.31" y="292.05" width="6" height="6" fill="none" stroke="#0000ff" stroke-width="1.5"/>
<rect x="760.94" y="292.87" width="6" height="6" fill="none" stroke="#0000ff" stroke-width="1.5"/>
<g clip-path="url(#cb)"><polyline points="466.6,72.59 474.22,208.11 481.85,250.83 489.47,271.62 497.1,282.52 504.72,288.78 512.34,291.6 519.97,293.19 527.59,293.78 535.22,290.15 542.84,286.15 550.46,280.7 558.09,273.44 565.71,252.69 573.34,234.85 580.96,233.94 588.58,236.35 596.21,240.75 603.83,245.74 611.46,250.74 619.08,255.1 626.7,258.91 634.33,263.8 641.95,267.24 649.58,270.38 657.2,273.49 664.82,276.32 672.45,278.81 680.07,281.03 687.7,283.21 695.32,285.28 702.94,287.16 710.57,289.03 718.19,290.54 725.82,292.27 733.44,293.73 741.06,295.06 748.69,296.27 756.31,297.41 763.94,298.27" fill="none" stroke="#00ff00" stroke-width="1.6" stroke-linejoin="round"/></g>
<circle cx="466.6" cy="72.59" r="3" fill="none" stroke="#00ff00" stroke-width="1.5"/>
<circle cx="474.22" cy="208.11" r="3" fill="none" stroke="#00ff00" stroke-width="1.5"/>
<circle cx="481.85" cy="250.83" r="3" fill="none" stroke="#00ff00" stroke-width="1.5"/>
<circle cx="489.47" cy="271.62" r="3" fill="none" stroke="#00ff00" stroke-width="1.5"/>
<circle cx="497.1" cy="282.52" r="3" fill="none" stroke="#00ff00" stroke-width="1.5"/>
<circle cx="504.72" cy="288.78" r="3" fill="none" stroke="#00ff00" stroke-width="1.5"/>
<circle cx="512.34" cy="291.6" r="3" fill="none" stroke="#00ff00" stroke-width="1.5"/>
<circle cx="519.97" cy="293.19" r="3" fill="none" stroke="#00ff00" stroke-width="1.5"/>
<circle cx="527.59" cy="293.78" r="3" fill="none" stroke="#00ff00" stroke-width="1.5"/>
<circle cx="535.22" cy="290.15" r="3" fill="none" stroke="#00ff00" stroke-width="1.5"/>
<circle cx="542.84" cy="286.15" r="3" fill="none" stroke="#00ff00" stroke-width="1.5"/>
<circle cx="550.46" cy="280.7" r="3" fill="none" stroke="#00ff00" stroke-width="1.5"/>
<circle cx="558.09" cy="273.44" r="3" fill="none" stroke="#00ff00" stroke-width="1.5"/>
<circle cx="565.71" cy="252.69" r="3" fill="none" stroke="#00ff00" stroke-width="1.5"/>
<circle cx="573.34" cy="234.85" r="3" fill="none" stroke="#00ff00" stroke-width="1.5"/>
<circle cx="580.96" cy="233.94" r="3" fill="none" stroke="#00ff00" stroke-width="1.5"/>
<circle cx="588.58" cy="236.35" r="3" fill="none" stroke="#00ff00" stroke-width="1.5"/>
<circle cx="596.21" cy="240.75" r="3" fill="none" stroke="#00ff00" stroke-width="1.5"/>
<circle cx="603.83" cy="245.74" r="3" fill="none" stroke="#00ff00" stroke-width="1.5"/>
<circle cx="611.46" cy="250.74" r="3" fill="none" stroke="#00ff00" stroke-width="1.5"/>
<circle cx="619.08" cy="255.1" r="3" fill="none" stroke="#00ff00" stroke-width="1.5"/>
<circle cx="626.7" cy="258.91" r="3" fill="none" stroke="#00ff00" stroke-width="1.5"/>
<circle cx="634.33" cy="263.8" r="3" fill="none" stroke="#00ff00" stroke-width="1.5"/>
<circle cx="641.95" cy="267.24" r="3" fill="none" stroke="#00ff00" stroke-width="1.5"/>
<circle cx="649.58" cy="270.38" r="3" fill="none" stroke="#00ff00" stroke-width="1.5"/>
<circle cx="657.2" cy="273.49" r="3" fill="none" stroke="#00ff00" stroke-width="1.5"/>
<circle cx="664.82" cy="276.32" r="3" fill="none" stroke="#00ff00" stroke-width="1.5"/>
<circle cx="672.45" cy="278.81" r="3" fill="none" stroke="#00ff00" stroke-width="1.5"/>
<circle cx="680.07" cy="281.03" r="3" fill="none" stroke="#00ff00" stroke-width="1.5"/>
<circle cx="687.7" cy="283.21" r="3" fill="none" stroke="#00ff00" stroke-width="1.5"/>
<circle cx="695.32" cy="285.28" r="3" fill="none" stroke="#00ff00" stroke-width="1.5"/>
<circle cx="702.94" cy="287.16" r="3" fill="none" stroke="#00ff00" stroke-width="1.5"/>
<circle cx="710.57" cy="289.03" r="3" fill="none" stroke="#00ff00" stroke-width="1.5"/>
<circle cx="718.19" cy="290.54" r="3" fill="none" stroke="#00ff00" stroke-width="1.5"/>
<circle cx="725.82" cy="292.27" r="3" fill="none" stroke="#00ff00" stroke-width="1.5"/>
<circle cx="733.44" cy="293.73" r="3" fill="none" stroke="#00ff00" stroke-width="1.5"/>
<circle cx="741.06" cy="295.06" r="3" fill="none" stroke="#00ff00" stroke-width="1.5"/>
<circle cx="748.69" cy="296.27" r="3" fill="none" stroke="#00ff00" stroke-width="1.5"/>
<circle cx="756.31" cy="297.41" r="3" fill="none" stroke="#00ff00" stroke-width="1.5"/>
<circle cx="763.94" cy="298.27" r="3" fill="none" stroke="#00ff00" stroke-width="1.5"/>
<g clip-path="url(#cb)"><polyline points="466.6,-111.1 474.22,103.19 481.85,184.68 489.47,222.18 497.1,243.79 504.72,259.27 512.34,266.63 519.97,271.17 527.59,272.98 535.22,272.53 542.84,267.22 550.46,255.73 558.09,244.84 565.71,236.21 573.34,229.49 580.96,234.85 588.58,240.75 596.21,246.33 603.83,252.1 611.46,256.37 619.08,260.09 626.7,263.22 634.33,267.97 641.95,271.24 649.58,274.18 657.2,277.02 664.82,279.67 672.45,282.03 680.07,284.12 687.7,286.1 695.32,288.07 702.94,289.85 710.57,291.59 718.19,293.03 725.82,294.69 733.44,296.04 741.06,297.28 748.69,298.44 756.31,299.55 763.94,300.44" fill="none" stroke="#a52a2a" stroke-width="1.6" stroke-linejoin="round"/></g>
<polygon points="474.22,100.15 471.18,104.71 477.26,104.71" fill="#a52a2a" fill-opacity="0.45" stroke="#a52a2a" stroke-width="1.75"/>
<polygon points="481.85,181.64 478.81,186.2 484.89,186.2" fill="#a52a2a" fill-opacity="0.45" stroke="#a52a2a" stroke-width="1.75"/>
<polygon points="489.47,219.14 486.43,223.7 492.51,223.7" fill="#a52a2a" fill-opacity="0.45" stroke="#a52a2a" stroke-width="1.75"/>
<polygon points="497.1,240.75 494.06,245.31 500.14,245.31" fill="#a52a2a" fill-opacity="0.45" stroke="#a52a2a" stroke-width="1.75"/>
<polygon points="504.72,256.23 501.68,260.79 507.76,260.79" fill="#a52a2a" fill-opacity="0.45" stroke="#a52a2a" stroke-width="1.75"/>
<polygon points="512.34,263.59 509.3,268.15 515.38,268.15" fill="#a52a2a" fill-opacity="0.45" stroke="#a52a2a" stroke-width="1.75"/>
<polygon points="519.97,268.13 516.93,272.69 523.01,272.69" fill="#a52a2a" fill-opacity="0.45" stroke="#a52a2a" stroke-width="1.75"/>
<polygon points="527.59,269.94 524.55,274.5 530.63,274.5" fill="#a52a2a" fill-opacity="0.45" stroke="#a52a2a" stroke-width="1.75"/>
<polygon points="535.22,269.49 532.18,274.05 538.26,274.05" fill="#a52a2a" fill-opacity="0.45" stroke="#a52a2a" stroke-width="1.75"/>
<polygon points="542.84,264.18 539.8,268.74 545.88,268.74" fill="#a52a2a" fill-opacity="0.45" stroke="#a52a2a" stroke-width="1.75"/>
<polygon points="550.46,252.69 547.42,257.25 553.5,257.25" fill="#a52a2a" fill-opacity="0.45" stroke="#a52a2a" stroke-width="1.75"/>
<polygon points="558.09,241.8 555.05,246.36 561.13,246.36" fill="#a52a2a" fill-opacity="0.45" stroke="#a52a2a" stroke-width="1.75"/>
<polygon points="565.71,233.17 562.67,237.73 568.75,237.73" fill="#a52a2a" fill-opacity="0.45" stroke="#a52a2a" stroke-width="1.75"/>
<polygon points="573.34,226.45 570.3,231.01 576.38,231.01" fill="#a52a2a" fill-opacity="0.45" stroke="#a52a2a" stroke-width="1.75"/>
<polygon points="580.96,231.81 577.92,236.37 584,236.37" fill="#a52a2a" fill-opacity="0.45" stroke="#a52a2a" stroke-width="1.75"/>
<polygon points="588.58,237.71 585.54,242.27 591.62,242.27" fill="#a52a2a" fill-opacity="0.45" stroke="#a52a2a" stroke-width="1.75"/>
<polygon points="596.21,243.29 593.17,247.85 599.25,247.85" fill="#a52a2a" fill-opacity="0.45" stroke="#a52a2a" stroke-width="1.75"/>
<polygon points="603.83,249.06 600.79,253.62 606.87,253.62" fill="#a52a2a" fill-opacity="0.45" stroke="#a52a2a" stroke-width="1.75"/>
<polygon points="611.46,253.33 608.42,257.89 614.5,257.89" fill="#a52a2a" fill-opacity="0.45" stroke="#a52a2a" stroke-width="1.75"/>
<polygon points="619.08,257.05 616.04,261.61 622.12,261.61" fill="#a52a2a" fill-opacity="0.45" stroke="#a52a2a" stroke-width="1.75"/>
<polygon points="626.7,260.18 623.66,264.74 629.74,264.74" fill="#a52a2a" fill-opacity="0.45" stroke="#a52a2a" stroke-width="1.75"/>
<polygon points="634.33,264.93 631.29,269.49 637.37,269.49" fill="#a52a2a" fill-opacity="0.45" stroke="#a52a2a" stroke-width="1.75"/>
<polygon points="641.95,268.2 638.91,272.76 644.99,272.76" fill="#a52a2a" fill-opacity="0.45" stroke="#a52a2a" stroke-width="1.75"/>
<polygon points="649.58,271.14 646.54,275.7 652.62,275.7" fill="#a52a2a" fill-opacity="0.45" stroke="#a52a2a" stroke-width="1.75"/>
<polygon points="657.2,273.99 654.16,278.55 660.24,278.55" fill="#a52a2a" fill-opacity="0.45" stroke="#a52a2a" stroke-width="1.75"/>
<polygon points="664.82,276.63 661.78,281.19 667.86,281.19" fill="#a52a2a" fill-opacity="0.45" stroke="#a52a2a" stroke-width="1.75"/>
<polygon points="672.45,278.99 669.41,283.55 675.49,283.55" fill="#a52a2a" fill-opacity="0.45" stroke="#a52a2a" stroke-width="1.75"/>
<polygon points="680.07,281.08 677.03,285.64 683.11,285.64" fill="#a52a2a" fill-opacity="0.45" stroke="#a52a2a" stroke-width="1.75"/>
<polygon points="687.7,283.07 684.66,287.63 690.74,287.63" fill="#a52a2a" fill-opacity="0.45" stroke="#a52a2a" stroke-width="1.75"/>
<polygon points="695.32,285.03 692.28,289.59 698.36,289.59" fill="#a52a2a" fill-opacity="0.45" stroke="#a52a2a" stroke-width="1.75"/>
<polygon points="702.94,286.81 699.9,291.37 705.98,291.37" fill="#a52a2a" fill-opacity="0.45" stroke="#a52a2a" stroke-width="1.75"/>
<polygon points="710.57,288.55 707.53,293.11 713.61,293.11" fill="#a52a2a" fill-opacity="0.45" stroke="#a52a2a" stroke-width="1.75"/>
<polygon points="718.19,289.99 715.15,294.55 721.23,294.55" fill="#a52a2a" fill-opacity="0.45" stroke="#a52a2a" stroke-width="1.75"/>
<polygon points="725.82,291.65 722.78,296.21 728.86,296.21" fill="#a52a2a" fill-opacity="0.45" stroke="#a52a2a" stroke-width="1.75"/>
<polygon points="733.44,293 730.4,297.56 736.48,297.56" fill="#a52a2a" fill-opacity="0.45" stroke="#a52a2a" stroke-width="1.75"/>
<polygon points="741.06,294.24 738.02,298.8 744.1,298.8" fill="#a52a2a" fill-opacity="0.45" stroke="#a52a2a" stroke-width="1.75"/>
<polygon points="748.69,295.41 745.65,299.97 751.73,299.97" fill="#a52a2a" fill-opacity="0.45" stroke="#a52a2a" stroke-width="1.75"/>
<polygon points="756.31,296.51 753.27,301.07 759.35,301.07" fill="#a52a2a" fill-opacity="0.45" stroke="#a52a2a" stroke-width="1.75"/>
<polygon points="763.94,297.4 760.9,301.96 766.98,301.96" fill="#a52a2a" fill-opacity="0.45" stroke="#a52a2a" stroke-width="1.75"/>
<g clip-path="url(#cb)"><polyline points="466.6,-247.3 474.22,25.1 481.85,128.61 489.47,184 497.1,215.14 504.72,234.85 512.34,247.2 519.97,253.92 527.59,258.23 535.22,257.64 542.84,249.38 550.46,242.88 558.09,229.85 565.71,228.67 573.34,233.94 580.96,240.75 588.58,245.11 596.21,251.33 603.83,256.37 611.46,260.73 619.08,264.49 626.7,268.29 634.33,271.93 641.95,275.03 649.58,277.79 657.2,280.38 664.82,282.84 672.45,285.08 680.07,287.04 687.7,288.84 695.32,290.71 702.94,292.39 710.57,294.02 718.19,295.39 725.82,296.97 733.44,298.22 741.06,299.39 748.69,300.5 756.31,301.58 763.94,302.5" fill="none" stroke="#000000" stroke-width="1.6" stroke-linejoin="round"/></g>
<polygon points="481.85,131.65 478.81,127.09 484.89,127.09" fill="#000000" fill-opacity="0.45" stroke="#000000" stroke-width="1.75"/>
<polygon points="489.47,187.04 486.43,182.48 492.51,182.48" fill="#000000" fill-opacity="0.45" stroke="#000000" stroke-width="1.75"/>
<polygon points="497.1,218.18 494.06,213.62 500.14,213.62" fill="#000000" fill-opacity="0.45" stroke="#000000" stroke-width="1.75"/>
<polygon points="504.72,237.89 501.68,233.33 507.76,233.33" fill="#000000" fill-opacity="0.45" stroke="#000000" stroke-width="1.75"/>
<polygon points="512.34,250.24 509.3,245.68 515.38,245.68" fill="#000000" fill-opacity="0.45" stroke="#000000" stroke-width="1.75"/>
<polygon points="519.97,256.96 516.93,252.4 523.01,252.4" fill="#000000" fill-opacity="0.45" stroke="#000000" stroke-width="1.75"/>
<polygon points="527.59,261.27 524.55,256.71 530.63,256.71" fill="#000000" fill-opacity="0.45" stroke="#000000" stroke-width="1.75"/>
<polygon points="535.22,260.68 532.18,256.12 538.26,256.12" fill="#000000" fill-opacity="0.45" stroke="#000000" stroke-width="1.75"/>
<polygon points="542.84,252.42 539.8,247.86 545.88,247.86" fill="#000000" fill-opacity="0.45" stroke="#000000" stroke-width="1.75"/>
<polygon points="550.46,245.92 547.42,241.36 553.5,241.36" fill="#000000" fill-opacity="0.45" stroke="#000000" stroke-width="1.75"/>
<polygon points="558.09,232.89 555.05,228.33 561.13,228.33" fill="#000000" fill-opacity="0.45" stroke="#000000" stroke-width="1.75"/>
<polygon points="565.71,231.71 562.67,227.15 568.75,227.15" fill="#000000" fill-opacity="0.45" stroke="#000000" stroke-width="1.75"/>
<polygon points="573.34,236.98 570.3,232.42 576.38,232.42" fill="#000000" fill-opacity="0.45" stroke="#000000" stroke-width="1.75"/>
<polygon points="580.96,243.79 577.92,239.23 584,239.23" fill="#000000" fill-opacity="0.45" stroke="#000000" stroke-width="1.75"/>
<polygon points="588.58,248.15 585.54,243.59 591.62,243.59" fill="#000000" fill-opacity="0.45" stroke="#000000" stroke-width="1.75"/>
<polygon points="596.21,254.37 593.17,249.81 599.25,249.81" fill="#000000" fill-opacity="0.45" stroke="#000000" stroke-width="1.75"/>
<polygon points="603.83,259.41 600.79,254.85 606.87,254.85" fill="#000000" fill-opacity="0.45" stroke="#000000" stroke-width="1.75"/>
<polygon points="611.46,263.77 608.42,259.21 614.5,259.21" fill="#000000" fill-opacity="0.45" stroke="#000000" stroke-width="1.75"/>
<polygon points="619.08,267.53 616.04,262.97 622.12,262.97" fill="#000000" fill-opacity="0.45" stroke="#000000" stroke-width="1.75"/>
<polygon points="626.7,271.33 623.66,266.77 629.74,266.77" fill="#000000" fill-opacity="0.45" stroke="#000000" stroke-width="1.75"/>
<polygon points="634.33,274.97 631.29,270.41 637.37,270.41" fill="#000000" fill-opacity="0.45" stroke="#000000" stroke-width="1.75"/>
<polygon points="641.95,278.07 638.91,273.51 644.99,273.51" fill="#000000" fill-opacity="0.45" stroke="#000000" stroke-width="1.75"/>
<polygon points="649.58,280.83 646.54,276.27 652.62,276.27" fill="#000000" fill-opacity="0.45" stroke="#000000" stroke-width="1.75"/>
<polygon points="657.2,283.41 654.16,278.85 660.24,278.85" fill="#000000" fill-opacity="0.45" stroke="#000000" stroke-width="1.75"/>
<polygon points="664.82,285.88 661.78,281.32 667.86,281.32" fill="#000000" fill-opacity="0.45" stroke="#000000" stroke-width="1.75"/>
<polygon points="672.45,288.12 669.41,283.56 675.49,283.56" fill="#000000" fill-opacity="0.45" stroke="#000000" stroke-width="1.75"/>
<polygon points="680.07,290.08 677.03,285.52 683.11,285.52" fill="#000000" fill-opacity="0.45" stroke="#000000" stroke-width="1.75"/>
<polygon points="687.7,291.88 684.66,287.32 690.74,287.32" fill="#000000" fill-opacity="0.45" stroke="#000000" stroke-width="1.75"/>
<polygon points="695.32,293.74 692.28,289.18 698.36,289.18" fill="#000000" fill-opacity="0.45" stroke="#000000" stroke-width="1.75"/>
<polygon points="702.94,295.43 699.9,290.87 705.98,290.87" fill="#000000" fill-opacity="0.45" stroke="#000000" stroke-width="1.75"/>
<polygon points="710.57,297.06 707.53,292.5 713.61,292.5" fill="#000000" fill-opacity="0.45" stroke="#000000" stroke-width="1.75"/>
<polygon points="718.19,298.43 715.15,293.87 721.23,293.87" fill="#000000" fill-opacity="0.45" stroke="#000000" stroke-width="1.75"/>
<polygon points="725.82,300.01 722.78,295.45 728.86,295.45" fill="#000000" fill-opacity="0.45" stroke="#000000" stroke-width="1.75"/>
<polygon points="733.44,301.26 730.4,296.7 736.48,296.7" fill="#000000" fill-opacity="0.45" stroke="#000000" stroke-width="1.75"/>
<polygon points="741.06,302.43 738.02,297.87 744.1,297.87" fill="#000000" fill-opacity="0.45" stroke="#000000" stroke-width="1.75"/>
<polygon points="748.69,303.54 745.65,298.98 751.73,298.98" fill="#000000" fill-opacity="0.45" stroke="#000000" stroke-width="1.75"/>
<polygon points="756.31,304.62 753.27,300.06 759.35,300.06" fill="#000000" fill-opacity="0.45" stroke="#000000" stroke-width="1.75"/>
<polygon points="763.94,305.54 760.9,300.98 766.98,300.98" fill="#000000" fill-opacity="0.45" stroke="#000000" stroke-width="1.75"/>
<g clip-path="url(#cb)"><polyline points="466.6,-338.1 474.22,-20.3 481.85,77.31 489.47,146.77 497.1,187.27 504.72,212.74 512.34,227.18 519.97,236.66 527.59,241.66 535.22,241.07 542.84,229.85 550.46,221.23 558.09,223.95 565.71,232.12 573.34,238.48 580.96,245.74 588.58,252.1 596.21,257.32 603.83,262.09 611.46,265.72 619.08,269.31 626.7,273.01 634.33,276.32 641.95,279.25 649.58,281.79 657.2,284.1 664.82,286.36 672.45,288.46 680.07,290.29 687.7,291.88 695.32,293.64 702.94,295.21 710.57,296.71 718.19,298.02 725.82,299.52 733.44,300.64 741.06,301.73 748.69,302.79 756.31,303.83 763.94,304.79" fill="none" stroke="#ee82ee" stroke-width="1.6" stroke-linejoin="round"/></g>
<polygon points="481.85,74.37 478.91,77.31 481.85,80.25 484.79,77.31" fill="none" stroke="#ee82ee" stroke-width="1.5"/>
<polygon points="489.47,143.83 486.53,146.77 489.47,149.71 492.41,146.77" fill="none" stroke="#ee82ee" stroke-width="1.5"/>
<polygon points="497.1,184.33 494.16,187.27 497.1,190.21 500.04,187.27" fill="none" stroke="#ee82ee" stroke-width="1.5"/>
<polygon points="504.72,209.8 501.78,212.74 504.72,215.68 507.66,212.74" fill="none" stroke="#ee82ee" stroke-width="1.5"/>
<polygon points="512.34,224.24 509.4,227.18 512.34,230.12 515.28,227.18" fill="none" stroke="#ee82ee" stroke-width="1.5"/>
<polygon points="519.97,233.72 517.03,236.66 519.97,239.6 522.91,236.66" fill="none" stroke="#ee82ee" stroke-width="1.5"/>
<polygon points="527.59,238.72 524.65,241.66 527.59,244.6 530.53,241.66" fill="none" stroke="#ee82ee" stroke-width="1.5"/>
<polygon points="535.22,238.13 532.28,241.07 535.22,244.01 538.16,241.07" fill="none" stroke="#ee82ee" stroke-width="1.5"/>
<polygon points="542.84,226.91 539.9,229.85 542.84,232.79 545.78,229.85" fill="none" stroke="#ee82ee" stroke-width="1.5"/>
<polygon points="550.46,218.29 547.52,221.23 550.46,224.17 553.4,221.23" fill="none" stroke="#ee82ee" stroke-width="1.5"/>
<polygon points="558.09,221.01 555.15,223.95 558.09,226.89 561.03,223.95" fill="none" stroke="#ee82ee" stroke-width="1.5"/>
<polygon points="565.71,229.18 562.77,232.12 565.71,235.06 568.65,232.12" fill="none" stroke="#ee82ee" stroke-width="1.5"/>
<polygon points="573.34,235.54 570.4,238.48 573.34,241.42 576.28,238.48" fill="none" stroke="#ee82ee" stroke-width="1.5"/>
<polygon points="580.96,242.8 578.02,245.74 580.96,248.68 583.9,245.74" fill="none" stroke="#ee82ee" stroke-width="1.5"/>
<polygon points="588.58,249.16 585.64,252.1 588.58,255.04 591.52,252.1" fill="none" stroke="#ee82ee" stroke-width="1.5"/>
<polygon points="596.21,254.38 593.27,257.32 596.21,260.26 599.15,257.32" fill="none" stroke="#ee82ee" stroke-width="1.5"/>
<polygon points="603.83,259.15 600.89,262.09 603.83,265.03 606.77,262.09" fill="none" stroke="#ee82ee" stroke-width="1.5"/>
<polygon points="611.46,262.78 608.52,265.72 611.46,268.66 614.4,265.72" fill="none" stroke="#ee82ee" stroke-width="1.5"/>
<polygon points="619.08,266.37 616.14,269.31 619.08,272.25 622.02,269.31" fill="none" stroke="#ee82ee" stroke-width="1.5"/>
<polygon points="626.7,270.07 623.76,273.01 626.7,275.95 629.64,273.01" fill="none" stroke="#ee82ee" stroke-width="1.5"/>
<polygon points="634.33,273.38 631.39,276.32 634.33,279.26 637.27,276.32" fill="none" stroke="#ee82ee" stroke-width="1.5"/>
<polygon points="641.95,276.31 639.01,279.25 641.95,282.19 644.89,279.25" fill="none" stroke="#ee82ee" stroke-width="1.5"/>
<polygon points="649.58,278.85 646.64,281.79 649.58,284.73 652.52,281.79" fill="none" stroke="#ee82ee" stroke-width="1.5"/>
<polygon points="657.2,281.16 654.26,284.1 657.2,287.04 660.14,284.1" fill="none" stroke="#ee82ee" stroke-width="1.5"/>
<polygon points="664.82,283.42 661.88,286.36 664.82,289.3 667.76,286.36" fill="none" stroke="#ee82ee" stroke-width="1.5"/>
<polygon points="672.45,285.52 669.51,288.46 672.45,291.4 675.39,288.46" fill="none" stroke="#ee82ee" stroke-width="1.5"/>
<polygon points="680.07,287.35 677.13,290.29 680.07,293.23 683.01,290.29" fill="none" stroke="#ee82ee" stroke-width="1.5"/>
<polygon points="687.7,288.94 684.76,291.88 687.7,294.82 690.64,291.88" fill="none" stroke="#ee82ee" stroke-width="1.5"/>
<polygon points="695.32,290.7 692.38,293.64 695.32,296.58 698.26,293.64" fill="none" stroke="#ee82ee" stroke-width="1.5"/>
<polygon points="702.94,292.27 700,295.21 702.94,298.15 705.88,295.21" fill="none" stroke="#ee82ee" stroke-width="1.5"/>
<polygon points="710.57,293.77 707.63,296.71 710.57,299.65 713.51,296.71" fill="none" stroke="#ee82ee" stroke-width="1.5"/>
<polygon points="718.19,295.08 715.25,298.02 718.19,300.96 721.13,298.02" fill="none" stroke="#ee82ee" stroke-width="1.5"/>
<polygon points="725.82,296.58 722.88,299.52 725.82,302.46 728.76,299.52" fill="none" stroke="#ee82ee" stroke-width="1.5"/>
<polygon points="733.44,297.7 730.5,300.64 733.44,303.58 736.38,300.64" fill="none" stroke="#ee82ee" stroke-width="1.5"/>
<polygon points="741.06,298.79 738.12,301.73 741.06,304.67 744,301.73" fill="none" stroke="#ee82ee" stroke-width="1.5"/>
<polygon points="748.69,299.85 745.75,302.79 748.69,305.73 751.63,302.79" fill="none" stroke="#ee82ee" stroke-width="1.5"/>
<polygon points="756.31,300.89 753.37,303.83 756.31,306.77 759.25,303.83" fill="none" stroke="#ee82ee" stroke-width="1.5"/>
<polygon points="763.94,301.85 761,304.79 763.94,307.73 766.88,304.79" fill="none" stroke="#ee82ee" stroke-width="1.5"/>
<g clip-path="url(#cb)"><polyline points="466.6,-565.1 474.22,-65.7 481.85,43.26 489.47,119.31 497.1,165.2 504.72,192.31 512.34,212.15 519.97,220.14 527.59,216.23 535.22,208.11 542.84,215.33 550.46,220.77 558.09,229.85 565.71,238.21 573.34,245.52 580.96,252.42 588.58,258.46 596.21,262.72 603.83,267.26 611.46,271.17 619.08,274.62 626.7,278.2 634.33,281.16 641.95,283.88 649.58,286.2 657.2,288.19 664.82,290.24 672.45,292.19 680.07,293.87 687.7,295.23 695.32,296.86 702.94,298.32 710.57,299.68 718.19,300.9 725.82,302.31 733.44,303.31 741.06,304.31 748.69,305.31 756.31,306.31 763.94,307.31" fill="none" stroke="#ff0000" stroke-width="1.6" stroke-linejoin="round"/></g>
<polygon points="489.47,116.16 492.47,118.33 491.32,121.85 487.62,121.85 486.48,118.33" fill="none" stroke="#ff0000" stroke-width="1.5"/>
<polygon points="497.1,162.05 500.09,164.23 498.95,167.75 495.24,167.75 494.1,164.23" fill="none" stroke="#ff0000" stroke-width="1.5"/>
<polygon points="504.72,189.16 507.72,191.33 506.57,194.86 502.87,194.86 501.72,191.33" fill="none" stroke="#ff0000" stroke-width="1.5"/>
<polygon points="512.34,209 515.34,211.17 514.2,214.7 510.49,214.7 509.35,211.17" fill="none" stroke="#ff0000" stroke-width="1.5"/>
<polygon points="519.97,216.99 522.96,219.16 521.82,222.69 518.12,222.69 516.97,219.16" fill="none" stroke="#ff0000" stroke-width="1.5"/>
<polygon points="527.59,213.08 530.59,215.26 529.44,218.78 525.74,218.78 524.6,215.26" fill="none" stroke="#ff0000" stroke-width="1.5"/>
<polygon points="535.22,204.96 538.21,207.13 537.07,210.66 533.36,210.66 532.22,207.13" fill="none" stroke="#ff0000" stroke-width="1.5"/>
<polygon points="542.84,212.18 545.84,214.35 544.69,217.87 540.99,217.87 539.84,214.35" fill="none" stroke="#ff0000" stroke-width="1.5"/>
<polygon points="550.46,217.62 553.46,219.8 552.32,223.32 548.61,223.32 547.47,219.8" fill="none" stroke="#ff0000" stroke-width="1.5"/>
<polygon points="558.09,226.7 561.08,228.88 559.94,232.4 556.24,232.4 555.09,228.88" fill="none" stroke="#ff0000" stroke-width="1.5"/>
<polygon points="565.71,235.06 568.71,237.23 567.56,240.76 563.86,240.76 562.72,237.23" fill="none" stroke="#ff0000" stroke-width="1.5"/>
<polygon points="573.34,242.37 576.33,244.54 575.19,248.07 571.48,248.07 570.34,244.54" fill="none" stroke="#ff0000" stroke-width="1.5"/>
<polygon points="580.96,249.27 583.96,251.44 582.81,254.97 579.11,254.97 577.96,251.44" fill="none" stroke="#ff0000" stroke-width="1.5"/>
<polygon points="588.58,255.31 591.58,257.48 590.44,261 586.73,261 585.59,257.48" fill="none" stroke="#ff0000" stroke-width="1.5"/>
<polygon points="596.21,259.57 599.2,261.75 598.06,265.27 594.36,265.27 593.21,261.75" fill="none" stroke="#ff0000" stroke-width="1.5"/>
<polygon points="603.83,264.11 606.83,266.29 605.68,269.81 601.98,269.81 600.84,266.29" fill="none" stroke="#ff0000" stroke-width="1.5"/>
<polygon points="611.46,268.02 614.45,270.19 613.31,273.72 609.6,273.72 608.46,270.19" fill="none" stroke="#ff0000" stroke-width="1.5"/>
<polygon points="619.08,271.47 622.08,273.64 620.93,277.17 617.23,277.17 616.08,273.64" fill="none" stroke="#ff0000" stroke-width="1.5"/>
<polygon points="626.7,275.06 629.7,277.23 628.56,280.75 624.85,280.75 623.71,277.23" fill="none" stroke="#ff0000" stroke-width="1.5"/>
<polygon points="634.33,278.01 637.32,280.18 636.18,283.7 632.48,283.7 631.33,280.18" fill="none" stroke="#ff0000" stroke-width="1.5"/>
<polygon points="641.95,280.73 644.95,282.91 643.8,286.43 640.1,286.43 638.96,282.91" fill="none" stroke="#ff0000" stroke-width="1.5"/>
<polygon points="649.58,283.05 652.57,285.22 651.43,288.74 647.72,288.74 646.58,285.22" fill="none" stroke="#ff0000" stroke-width="1.5"/>
<polygon points="657.2,285.04 660.2,287.22 659.05,290.74 655.35,290.74 654.2,287.22" fill="none" stroke="#ff0000" stroke-width="1.5"/>
<polygon points="664.82,287.09 667.82,289.26 666.68,292.78 662.97,292.78 661.83,289.26" fill="none" stroke="#ff0000" stroke-width="1.5"/>
<polygon points="672.45,289.04 675.44,291.21 674.3,294.74 670.6,294.74 669.45,291.21" fill="none" stroke="#ff0000" stroke-width="1.5"/>
<polygon points="680.07,290.72 683.07,292.89 681.92,296.42 678.22,296.42 677.08,292.89" fill="none" stroke="#ff0000" stroke-width="1.5"/>
<polygon points="687.7,292.08 690.69,294.26 689.55,297.78 685.84,297.78 684.7,294.26" fill="none" stroke="#ff0000" stroke-width="1.5"/>
<polygon points="695.32,293.71 698.32,295.89 697.17,299.41 693.47,299.41 692.32,295.89" fill="none" stroke="#ff0000" stroke-width="1.5"/>
<polygon points="702.94,295.17 705.94,297.34 704.8,300.87 701.09,300.87 699.95,297.34" fill="none" stroke="#ff0000" stroke-width="1.5"/>
<polygon points="710.57,296.53 713.56,298.71 712.42,302.23 708.72,302.23 707.57,298.71" fill="none" stroke="#ff0000" stroke-width="1.5"/>
<polygon points="718.19,297.75 721.19,299.93 720.04,303.45 716.34,303.45 715.2,299.93" fill="none" stroke="#ff0000" stroke-width="1.5"/>
<polygon points="725.82,299.16 728.81,301.34 727.67,304.86 723.96,304.86 722.82,301.34" fill="none" stroke="#ff0000" stroke-width="1.5"/>
<polygon points="733.44,300.16 736.44,302.34 735.29,305.86 731.59,305.86 730.44,302.34" fill="none" stroke="#ff0000" stroke-width="1.5"/>
<polygon points="741.06,301.16 744.06,303.34 742.92,306.86 739.21,306.86 738.07,303.34" fill="none" stroke="#ff0000" stroke-width="1.5"/>
<polygon points="748.69,302.16 751.68,304.34 750.54,307.86 746.84,307.86 745.69,304.34" fill="none" stroke="#ff0000" stroke-width="1.5"/>
<polygon points="756.31,303.16 759.31,305.33 758.16,308.86 754.46,308.86 753.32,305.33" fill="none" stroke="#ff0000" stroke-width="1.5"/>
<polygon points="763.94,304.16 766.93,306.33 765.79,309.85 762.08,309.85 760.94,306.33" fill="none" stroke="#ff0000" stroke-width="1.5"/>
<rect x="458.9" y="47.8" width="307" height="295.1" fill="none" stroke="#000" stroke-width="1.6"/>
<text x="461.2" y="366.1" text-anchor="middle">0</text>
<text x="537.52" y="366.1" text-anchor="middle">0.8</text>
<text x="613.84" y="366.1" text-anchor="middle">1.6</text>
<text x="690.16" y="366.1" text-anchor="middle">2.4</text>
<text x="766.48" y="366.1" text-anchor="middle">3.2</text>
<text x="452.3" y="349.4" text-anchor="end">0</text>
<text x="452.3" y="258.6" text-anchor="end">0.2</text>
<text x="452.3" y="167.8" text-anchor="end">0.4</text>
<text x="452.3" y="77" text-anchor="end">0.6</text>
<text x="618.6" y="391.8" text-anchor="middle">T</text>
<text x="690.8" y="70.8" text-anchor="end">f = 0.00</text>
<path d="M702.6,64.8H754.7" stroke="#0000ff" stroke-width="1.6"/>
<rect x="725.65" y="61.8" width="6" height="6" fill="none" stroke="#0000ff" stroke-width="1.5"/>
<text x="690.8" y="97.12" text-anchor="end">0.05</text>
<path d="M702.6,91.12H754.7" stroke="#00ff00" stroke-width="1.6"/>
<circle cx="728.65" cy="91.12" r="3" fill="none" stroke="#00ff00" stroke-width="1.5"/>
<text x="690.8" y="123.44" text-anchor="end">0.10</text>
<path d="M702.6,117.44H754.7" stroke="#a52a2a" stroke-width="1.6"/>
<polygon points="728.65,114.4 725.61,118.96 731.69,118.96" fill="#a52a2a" fill-opacity="0.45" stroke="#a52a2a" stroke-width="1.75"/>
<text x="690.8" y="149.76" text-anchor="end">0.15</text>
<path d="M702.6,143.76H754.7" stroke="#000000" stroke-width="1.6"/>
<polygon points="728.65,146.8 725.61,142.24 731.69,142.24" fill="#000000" fill-opacity="0.45" stroke="#000000" stroke-width="1.75"/>
<text x="690.8" y="176.08" text-anchor="end">0.20</text>
<path d="M702.6,170.08H754.7" stroke="#ee82ee" stroke-width="1.6"/>
<polygon points="728.65,167.14 725.71,170.08 728.65,173.02 731.59,170.08" fill="none" stroke="#ee82ee" stroke-width="1.5"/>
<text x="690.8" y="202.4" text-anchor="end">0.25</text>
<path d="M702.6,196.4H754.7" stroke="#ff0000" stroke-width="1.6"/>
<polygon points="728.65,193.25 731.65,195.43 730.5,198.95 726.8,198.95 725.65,195.43" fill="none" stroke="#ff0000" stroke-width="1.5"/>
<text x="84.2" y="65.7">(a)</text>
<text x="488" y="65.7">(b)</text>
<text x="10.6" y="204.1" style="font-size:19px">M<tspan dy="5" style="font-size:14.6px">z</tspan></text>
<g fill="none" stroke="#000" stroke-linecap="round" stroke-linejoin="round"><path d="M403.5,197.0C403.8,195.0 405.2,194.2 406.2,195.6" stroke-width="1.0"/><path d="M406.0,195.2L411.1,205.8" stroke-width="1.7"/><path d="M411.0,205.6C411.7,206.9 412.8,206.8 413.2,205.4" stroke-width="1.0"/><path d="M412.3,194.4L404.1,207.5" stroke-width="0.9"/></g>
<text x="413.9" y="208.8" style="font-size:14.4px">zz</text>
</svg>
</body></html>
